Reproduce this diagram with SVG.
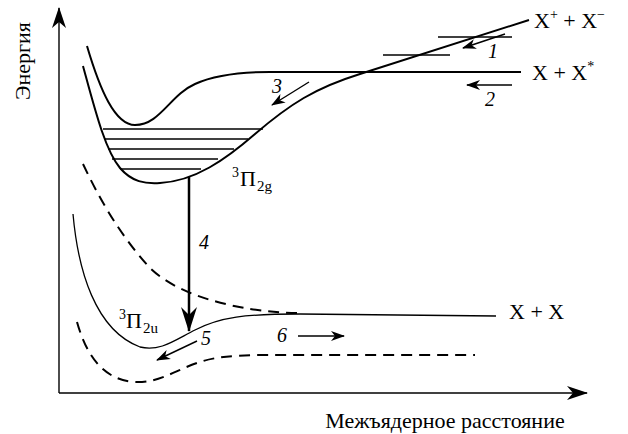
<svg xmlns="http://www.w3.org/2000/svg" width="628" height="434" viewBox="0 0 628 434">
<style>
.c{fill:none;stroke:#000;stroke-width:2}
.thin{fill:none;stroke:#000;stroke-width:1.3}
.d{fill:none;stroke:#000;stroke-width:2;stroke-dasharray:11 7}
.a{fill:none;stroke:#000;stroke-width:1.4}
.t{font-family:"Liberation Serif","Times New Roman",serif;font-size:22px;fill:#000}
.n{font-family:"Liberation Serif","Times New Roman",serif;font-size:20px;font-style:italic;fill:#000}
</style>
<defs>
<marker id="sm" viewBox="-15 -8 18 16" refX="0" refY="0" markerWidth="18" markerHeight="16" markerUnits="userSpaceOnUse" orient="auto" overflow="visible">
<path d="M1,0 L-13,-5 L-9,0 L-13,5 Z" fill="#000"/>
</marker>
<marker id="big" viewBox="-26 -10 30 20" refX="0" refY="0" markerWidth="30" markerHeight="20" markerUnits="userSpaceOnUse" orient="auto" overflow="visible">
<path d="M1,0 L-24,-8 L-16,0 L-24,8 Z" fill="#000"/>
</marker>
<marker id="ax" viewBox="-24 -10 28 20" refX="0" refY="0" markerWidth="28" markerHeight="20" markerUnits="userSpaceOnUse" orient="auto" overflow="visible">
<path d="M1,0 L-20,-7 L-14,0 L-20,7 Z" fill="#000"/>
</marker>
</defs>
<rect width="628" height="434" fill="#fff"/>
<g id="axes">
<line x1="59" y1="393" x2="59" y2="8" class="a" marker-end="url(#ax)"/>
<line x1="59" y1="393" x2="587" y2="393" class="a" marker-end="url(#ax)"/>
<text class="t" transform="translate(30,61) rotate(-90)" text-anchor="middle">Энергия</text>
<text class="t" x="445" y="428" text-anchor="middle">Межъядерное расстояние</text>
</g>
<g id="state-XXstar">
<path class="c" d="M87,46 C100,90 115,125 135,125 C160,125 170,95 195,84 C215,75 240,72 270,72 L521,72"/>
<text class="t" x="532" y="80">X + X<tspan font-size="14" dy="-9">*</tspan></text>
</g>
<g id="state-3Pi2g">
<path class="c" d="M83,66 C95,110 105,150 120,168 C132,182 145,184 160,183 C195,181 225,160 255,134 C290,104 315,88 360,74 L529,20"/>
<g class="a" stroke-width="1.2">
<line x1="103" y1="129" x2="263" y2="129"/>
<line x1="105" y1="139" x2="248" y2="139"/>
<line x1="108" y1="149" x2="234" y2="149"/>
<line x1="112" y1="159" x2="218" y2="159"/>
<line x1="120" y1="169" x2="201" y2="169"/>
</g>
<text class="t"><tspan x="232" y="177" font-size="14">3</tspan><tspan x="240" y="186">Π</tspan><tspan x="257" y="191" font-size="15">2g</tspan></text>
</g>
<g id="state-ionic">
<line class="a" x1="438" y1="37" x2="512" y2="37"/>
<line class="a" x1="383" y1="55" x2="450" y2="55"/>
<text class="t" x="534" y="28">X<tspan font-size="14" dy="-9">+</tspan><tspan dy="9"> + X</tspan><tspan font-size="14" dy="-9">−</tspan></text>
</g>
<g id="state-3Pi2u">
<path class="thin" d="M73,214 C78,270 95,330 140,347 C160,352 175,340 195,330 C220,317 245,314 300,314 L496,316"/>
<text class="t"><tspan x="119" y="319" font-size="14">3</tspan><tspan x="126" y="328">Π</tspan><tspan x="143" y="333" font-size="15">2u</tspan></text>
<text class="t" x="509" y="319">X + X</text>
</g>
<g id="repulsive-upper">
<path class="d" d="M83,164 C100,200 120,235 150,268 C175,292 215,303 250,309 C270,312 285,313 302,313"/>
</g>
<g id="repulsive-lower">
<path class="d" d="M77,322 C85,350 100,380 135,382 C160,383 175,370 200,362 C215,357 230,356 255,355 L475,355"/>
</g>
<g id="connectors">
<line class="a" x1="505" y1="34" x2="463" y2="48" marker-end="url(#sm)"/>
<line class="a" x1="512" y1="85" x2="467" y2="85" marker-end="url(#sm)"/>
<line class="a" x1="309" y1="82" x2="272" y2="105" marker-end="url(#sm)"/>
<line x1="189" y1="177" x2="189" y2="331" stroke="#000" stroke-width="2.5" marker-end="url(#big)"/>
<line class="a" x1="197" y1="341" x2="157" y2="360" marker-end="url(#sm)"/>
<line class="a" x1="298" y1="336" x2="344" y2="336" marker-end="url(#sm)"/>
<text class="n" x="488" y="58">1</text>
<text class="n" x="485" y="106">2</text>
<text class="n" x="272" y="93">3</text>
<text class="n" x="199" y="249">4</text>
<text class="n" x="201" y="345">5</text>
<text class="n" x="277" y="342">6</text>
</g>
</svg>
